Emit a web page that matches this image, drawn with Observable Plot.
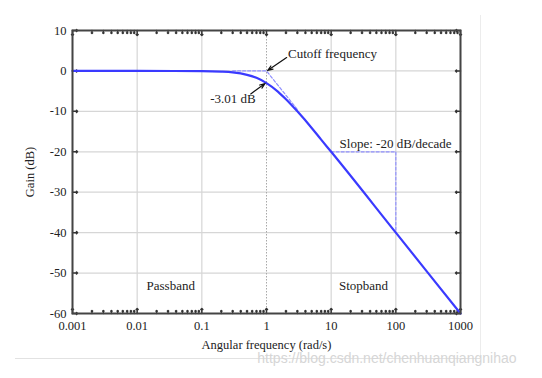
<!DOCTYPE html>
<html><head><meta charset="utf-8">
<script src="https://cdn.jsdelivr.net/npm/d3@7"></script>
<script src="https://cdn.jsdelivr.net/npm/@observablehq/plot@0.6"></script>
<style>body{margin:0;background:#fff}</style>
</head><body><div id="chart"></div>
<script>
// Gain curve
const freq = [0.001, 0.01, 0.1, 0.2, 0.3, 0.5, 0.7, 1, 1.5, 2, 3, 5, 7, 10, 100, 1000];
const gain = [0, 0, -0.04, -0.17, -0.37, -0.97, -1.7, -3.01, -5.1, -7.0, -10.0, -14.1, -17.0, -20.0, -40.0, -60.0];

// Ticks
const xTicks = [0.001, 0.01, 0.1, 1, 10, 100, 1000];
const xTickLabels = ["0.001", "0.01", "0.1", "1", "10", "100", "1000"];
const yTicks = [10, 0, -10, -20, -30, -40, -50, -60];
const yTickLabels = ["10", "0", "-10", "-20", "-30", "-40", "-50", "-60"];
const minorMultipliers = [2, 3, 4, 5, 6, 7, 8, 9];
const cutoffGrid = [1];

// Asymptote / slope guides
const asymFreq = [0.3, 1, 3];
const asymGain = [0, 0, -9.54];
const slopeFreq = [10, 100, 100];
const slopeGain = [-20, -20, -40];

// Annotations
const noteLabels = ["Cutoff frequency", "-3.01 dB", "Slope: -20 dB/decade"];
const noteX = [2.15, 0.135, 13.5];
const noteY = [4.3, -6.8, -18.0];
const bandLabels = ["Passband", "Stopband"];
const bandX = [0.033, 31.6];
const bandY = [-53.1, -53.1];
const arrowX1 = [2.05, 0.57];
const arrowY1 = [3.3, -5.7];
const arrowX2 = [1.04, 0.95];
const arrowY2 = [0.1, -3.1];

const curve = freq.map((f, i) => ({f, g: gain[i]}));
const asym = asymFreq.map((f, i) => ({f, g: asymGain[i]}));
const slope = slopeFreq.map((f, i) => ({f, g: slopeGain[i]}));
const notes = noteLabels.map((t, i) => ({t, x: noteX[i], y: noteY[i]}));
const bands = bandLabels.map((t, i) => ({t, x: bandX[i], y: bandY[i]}));
const arrows = arrowX1.map((x1, i) => ({x1, y1: arrowY1[i], x2: arrowX2[i], y2: arrowY2[i]}));
const minorTicks = xTicks.slice(0, -1).flatMap(d => minorMultipliers.map(m => d * m));

const serif = "'Liberation Serif', 'Times New Roman', serif";

const chart = Plot.plot({
  width: 542, height: 378,
  marginLeft: 72, marginRight: 82, marginTop: 30, marginBottom: 65,
  style: {fontFamily: serif, fontSize: "13px", background: "#fff", color: "#222"},
  x: {type: "log", domain: [0.001, 1000]},
  y: {domain: [-60, 10]},
  marks: [
    Plot.gridX(xTicks.filter(d => d !== 1), {stroke: "#d6d6d6", strokeOpacity: 1, strokeWidth: 1.2}),
    Plot.gridY(yTicks, {stroke: "#d6d6d6", strokeOpacity: 1, strokeWidth: 1.2}),
    Plot.gridX(cutoffGrid, {stroke: "#a8a8a8", strokeOpacity: 1, strokeDasharray: "1.5,1.5"}),
    Plot.axisX({ticks: xTicks, tickFormat: d => xTickLabels[xTicks.indexOf(d)], tickSize: 0, tickPadding: 8,
      label: "Angular frequency (rad/s)", labelAnchor: "center", labelArrow: "none", labelOffset: 35, fontSize: 12.5}),
    Plot.axisY({ticks: yTicks, tickFormat: d => yTickLabels[yTicks.indexOf(d)], tickSize: 0, tickPadding: 6,
      label: "Gain (dB)", labelAnchor: "center", labelArrow: "none", labelOffset: 47, fontSize: 12.5}),
    // inward ticks
    Plot.vectorX(minorTicks, {x: d => d, frameAnchor: "bottom", anchor: "start", rotate: 0, length: 3, stroke: "#333"}),
    Plot.vectorX(minorTicks, {x: d => d, frameAnchor: "top", anchor: "start", rotate: 180, length: 3, stroke: "#333"}),
    Plot.vectorX(xTicks, {x: d => d, frameAnchor: "bottom", anchor: "start", rotate: 0, length: 5, stroke: "#333"}),
    Plot.vectorX(xTicks, {x: d => d, frameAnchor: "top", anchor: "start", rotate: 180, length: 5, stroke: "#333"}),
    Plot.vectorY(yTicks, {y: d => d, frameAnchor: "left", anchor: "start", rotate: 90, length: 5, stroke: "#333"}),
    Plot.vectorY(yTicks, {y: d => d, frameAnchor: "right", anchor: "start", rotate: -90, length: 5, stroke: "#333"}),
    // guides
    Plot.line(asym, {x: "f", y: "g", stroke: "#8f8fff", strokeWidth: 1.2, strokeDasharray: "3,2"}),
    Plot.line(slope, {x: "f", y: "g", stroke: "#8f8fff", strokeWidth: 1.2, strokeDasharray: "3,2"}),
    // curve
    Plot.line(curve, {x: "f", y: "g", stroke: "#3a3aff", strokeWidth: 2.2, curve: "monotone-x"}),
    Plot.frame({stroke: "#444", strokeWidth: 2}),
    // annotations
    Plot.arrow(arrows, {x1: "x1", y1: "y1", x2: "x2", y2: "y2", stroke: "#111", strokeWidth: 1.2, headLength: 7, headAngle: 40}),
    Plot.text(notes, {x: "x", y: "y", text: "t", textAnchor: "start", fontSize: 13, fill: "#222"}),
    Plot.text(bands, {x: "x", y: "y", text: "t", textAnchor: "middle", fontSize: 13, fill: "#222"}),
    Plot.text(["https://blog.csdn.net/chenhuanqiangnihao"], {frameAnchor: "bottom-right", dx: 56, dy: 49,
      fill: "#d6d6d6", fontSize: 14, fontFamily: "'Liberation Sans', Arial, sans-serif", textAnchor: "end"})
  ]
});

// image border artifacts
const svg = d3.select(chart);
svg.insert("line", ":first-child").attr("x1", 15).attr("x2", 480).attr("y1", 358.5).attr("y2", 358.5).attr("stroke", "#e2e2e2");
svg.insert("line", ":first-child").attr("x1", 480.5).attr("x2", 480.5).attr("y1", 15).attr("y2", 358).attr("stroke", "#ececec");

document.getElementById("chart").appendChild(chart);
</script>
</body></html>
